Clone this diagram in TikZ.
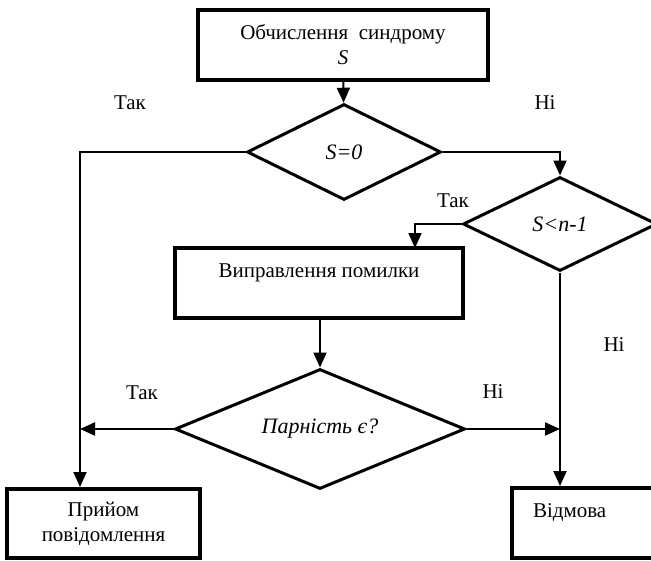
\documentclass[tikz,border=0pt]{standalone}
\usepackage{fontspec}
\setmainfont{Liberation Serif}
\usetikzlibrary{arrows.meta, positioning, shapes.geometric}

\begin{document}
\begin{tikzpicture}[
        x=1pt, y=-1pt,
        font=\fontsize{21}{25}\selectfont,
        block/.style={
            rectangle,
            draw=black,
            line width=4pt,
            fill=white,
            align=center,
            inner sep=0pt
        },
        decision/.style={
            diamond,
            draw=black,
            line width=3pt,
            fill=white,
            inner sep=0pt,
            aspect=2.2,
            font=\fontsize{22}{25}\selectfont\itshape
        },
        arrow/.style={-{Triangle[length=15pt, width=13pt]}, line width=2pt},
        answer/.style={inner sep=0pt}
    ]
    \useasboundingbox (0,0) rectangle (651,560);

    % --- NODES ---
    \node (syndrome) [block, minimum width=290pt, minimum height=70pt] at (343,45)
        {Обчислення\ \ синдрому\\\textit{S}};

    \node (zero) [decision, minimum width=194pt, minimum height=96pt] at (344,152) {S=0};

    \node (less) [decision, minimum width=194pt, minimum height=94pt] at (560,224) {S<n-1};

    \node (fix) [block, minimum width=288pt, minimum height=70pt] at (319,283)
        {Виправлення помилки\\\mbox{}};

    \node (parity) [decision, minimum width=290pt, minimum height=120pt] at (320,429) {Парність є?};

    \node (accept) [block, minimum width=193pt, minimum height=69pt] at (103.5,523.5)
        {Прийом\\повідомлення};

    \node (reject) [block, minimum width=150pt, minimum height=70pt, align=left,
        text width=108pt] at (587,523) {Відмова\\\mbox{}};

    % --- LABELS ---
    \node (yes1) [answer] at (130,103) {Так};
    \node (no1) [answer] at (545,103) {Ні};
    \node (yes2) [answer] at (453,201) {Так};
    \node (no2) [answer] at (614,345) {Ні};
    \node (yes3) [answer] at (142,393) {Так};
    \node (no3) [answer] at (493,392) {Ні};

    % --- COLUMNS ---
    \coordinate (lcol) at (80,152);
    \coordinate (rcol) at (560,152);
    \coordinate (fixin) at (415,248);

    % --- ARROWS ---
    \draw [arrow] (syndrome) -- (zero);
    \draw [arrow] (zero.west) -- (lcol) -- (lcol |- accept.north);
    \draw [arrow] (zero.east) -| (less.north);
    \draw [arrow] (less.west) -| (fixin);
    \draw [arrow] (fix.south -| parity.north) -- (parity.north);
    \draw [arrow] (parity.west) -- (parity.west -| lcol);
    \draw [arrow] (parity.east) -- (parity.east -| rcol);
    \draw [arrow] (less.south) -- (less.south |- reject.north);

\end{tikzpicture}
\end{document}
